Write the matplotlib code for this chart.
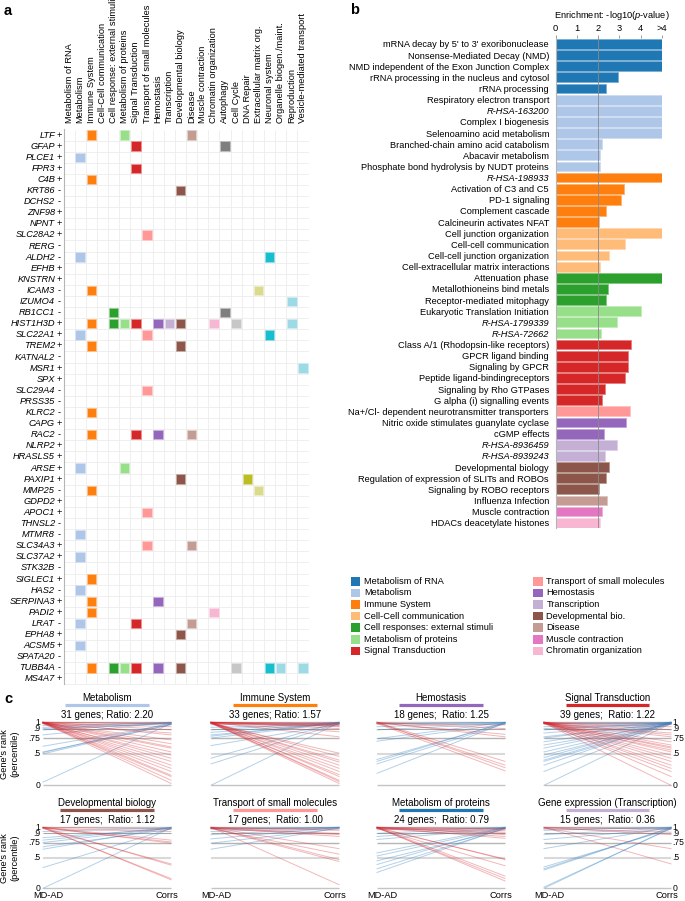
import matplotlib
matplotlib.use('Agg')
import matplotlib.pyplot as plt
from matplotlib.patches import Rectangle
from matplotlib.colors import to_rgb

plt.rcParams['font.family'] = ['Liberation Sans', 'DejaVu Sans']
plt.rcParams['mathtext.fontset'] = 'custom'
plt.rcParams['mathtext.rm'] = 'Liberation Sans'
plt.rcParams['mathtext.it'] = 'Liberation Sans:italic'

W, H = 685, 901
FS = 6.7

# ---------------- data : panel a ----------------
categories = ["Metabolism of RNA", "Metabolism", "Immune System", "Cell-Cell communication",
              "Cell response: external stimuli", "Metabolism of proteins", "Signal Transduction",
              "Transport of small molecules", "Hemostasis", "Transcription", "Developmental biology",
              "Disease", "Muscle contraction", "Chromatin organization", "Autophagy", "Cell Cycle",
              "DNA Repair", "Extracellular matrix org.", "Neuronal system", "Organelle biogen./maint.",
              "Reproduction", "Vesicle-mediated transport"]
cat_colors = ['#1f77b4', '#aec7e8', '#ff7f0e', '#ffbb78', '#2ca02c', '#98df8a', '#d62728',
              '#ff9896', '#9467bd', '#c5b0d5', '#8c564b', '#c49c94', '#e377c2', '#f7b6d2',
              '#7f7f7f', '#c7c7c7', '#bcbd22', '#dbdb8d', '#17becf', '#9edae5', '#9edae5', '#9edae5']

genes = ["LTF", "GFAP", "PLCE1", "FPR3", "C4B", "KRT86", "DCHS2", "ZNF98", "NPNT", "SLC28A2",
         "RERG", "ALDH2", "EFHB", "KNSTRN", "ICAM3", "IZUMO4", "RB1CC1", "HIST1H3D", "SLC22A1",
         "TREM2", "KATNAL2", "MSR1", "SPX", "SLC29A4", "PRSS35", "KLRC2", "CAPG", "RAC2", "NLRP2",
         "HRASLS5", "ARSE", "PAXIP1", "MMP25", "GDPD2", "APOC1", "THNSL2", "MTMR8", "SLC34A3",
         "SLC37A2", "STK32B", "SIGLEC1", "HAS2", "SERPINA3", "PADI2", "LRAT", "EPHA8", "ACSM5",
         "SPATA20", "TUBB4A", "MS4A7"]
gene_signs = ["+", "+", "+", "+", "+", "-", "-", "+", "+", "+",
              "-", "-", "+", "+", "-", "-", "-", "+", "+",
              "+", "-", "+", "+", "-", "-", "-", "+", "-", "+",
              "+", "+", "+", "-", "+", "+", "-", "-", "+",
              "+", "-", "+", "-", "+", "+", "-", "+", "+",
              "-", "-", "+"]
gene_hits = [[2, 5, 11], [6, 14], [1], [6], [2], [10], [], [], [], [7],
             [], [1, 18], [], [], [2, 17], [20], [4, 14], [2, 4, 5, 6, 8, 9, 10, 13, 15, 20], [1, 7, 18],
             [2, 10], [], [21], [], [7], [], [2], [], [2, 6, 8, 11], [],
             [], [1, 5], [10, 16], [2, 17], [], [7], [], [1], [7, 11],
             [1], [], [2], [1], [2, 8], [2, 13], [1, 6, 11], [10], [1],
             [], [2, 4, 5, 6, 8, 10, 15, 18, 19, 21], []]

# ---------------- data : panel b ----------------
pathways = ["mRNA decay by 5' to 3' exoribonuclease", "Nonsense-Mediated Decay (NMD)",
            "NMD independent of the Exon Junction Complex", "rRNA processing in the nucleus and cytosol",
            "rRNA processing", "Respiratory electron transport", "R-HSA-163200", "Complex I biogenesis",
            "Selenoamino acid metabolism", "Branched-chain amino acid catabolism", "Abacavir metabolism",
            "Phosphate bond hydrolysis by NUDT proteins", "R-HSA-198933", "Activation of C3 and C5",
            "PD-1 signaling", "Complement cascade", "Calcineurin activates NFAT", "Cell junction organization",
            "Cell-cell communication", "Cell-cell junction organization", "Cell-extracellular matrix interactions",
            "Attenuation phase", "Metallothioneins bind metals", "Receptor-mediated mitophagy",
            "Eukaryotic Translation Initiation", "R-HSA-1799339", "R-HSA-72662",
            "Class A/1 (Rhodopsin-like receptors)", "GPCR ligand binding", "Signaling by GPCR",
            "Peptide ligand-bindingreceptors", "Signaling by Rho GTPases", "G alpha (i) signalling events",
            "Na+/Cl- dependent neurotransmitter transporters", "Nitric oxide stimulates guanylate cyclase",
            "cGMP effects", "R-HSA-8936459", "R-HSA-8939243", "Developmental biology",
            "Regulation of expression of SLITs and ROBOs", "Signaling by ROBO receptors",
            "Influenza Infection", "Muscle contraction", "HDACs deacetylate histones"]
# -log10(p); values beyond 4 are shown in the ">4" slot (5)
enrichment = [5, 5, 5, 2.91, 2.36, 5, 5, 5, 5, 2.20, 2.09, 2.08, 5, 3.23, 3.07, 2.36, 2.05,
              5, 3.24, 2.49, 2.09, 5, 2.44, 2.36, 4.03, 2.88, 2.13, 3.56, 3.42, 3.42, 3.24, 2.30,
              2.20, 3.48, 3.31, 2.27, 2.88, 2.31, 2.52, 2.36, 2.05, 2.43, 2.19, 2.08]
pathway_group = [0, 0, 0, 0, 0, 1, 1, 1, 1, 1, 1, 1, 2, 2, 2, 2, 2, 3, 3, 3, 3, 4, 4, 4, 5, 5, 5,
                 6, 6, 6, 6, 6, 6, 7, 8, 8, 9, 9, 10, 10, 10, 11, 12, 13]
enrich_ticks = [0, 1, 2, 3, 4, 5]
enrich_ticklabels = ["0", "1", "2", "3", "4", ">4"]

legend_labels = ["Metabolism of RNA", "Metabolism", "Immune System", "Cell-Cell communication",
                 "Cell responses: external stimuli", "Metabolism of proteins", "Signal Transduction",
                 "Transport of small molecules", "Hemostasis", "Transcription", "Developmental bio.",
                 "Disease", "Muscle contraction", "Chromatin organization"]

# ---------------- data : panel c ----------------
c_titles = ["Metabolism", "Immune System", "Hemostasis", "Signal Transduction",
            "Developmental biology", "Transport of small molecules", "Metabolism of proteins",
            "Gene expression (Transcription)"]
c_title_colors = ['#aec7e8', '#ff7f0e', '#9467bd', '#d62728', '#8c564b', '#ff9896', '#1f77b4', '#c5b0d5']
c_subtitles = ["31 genes; Ratio: 2.20", "33 genes; Ratio: 1.57", "18 genes;  Ratio: 1.25",
               "39 genes;  Ratio: 1.22", "17 genes;  Ratio: 1.12", "17 genes;  Ratio: 1.00",
               "24 genes;  Ratio: 0.79", "15 genes;  Ratio: 0.36"]

met_up_from = [0.05, 0.50, 0.52, 0.53, 0.62, 0.80, 0.88, 0.90, 0.92, 0.95]
met_up_to = [0.98, 0.97, 0.99, 0.96, 0.97, 1.00, 0.99, 0.98, 1.00, 0.99]
met_dn_from = [1.00, 0.99, 1.00, 0.98, 1.00, 0.99, 1.00, 1.00, 0.99, 1.00, 0.98,
               1.00, 0.99, 1.00, 1.00, 0.99, 1.00, 0.98, 1.00, 0.99, 1.00]
met_dn_to = [0.97, 0.93, 0.88, 0.83, 0.80, 0.72, 0.66, 0.61, 0.59, 0.53, 0.48,
             0.43, 0.38, 0.32, 0.27, 0.22, 0.16, 0.14, 0.08, 0.03, 0.99]

imm_up_from = [0.00, 0.34, 0.43, 0.63, 0.75, 0.78, 0.80, 0.84, 0.88, 0.92, 0.96]
imm_up_to = [0.99, 0.98, 1.00, 0.97, 0.99, 1.00, 0.98, 0.99, 1.00, 0.97, 0.99]
imm_dn_from = [1.00, 0.99, 1.00, 0.98, 1.00, 0.99, 1.00, 1.00, 0.99, 1.00, 0.98,
               1.00, 0.99, 1.00, 1.00, 0.99, 1.00, 0.98, 1.00, 0.99, 1.00, 0.99]
imm_dn_to = [0.99, 0.98, 0.97, 0.95, 0.94, 0.96, 0.93, 0.90, 0.85, 0.77, 0.51,
             0.46, 0.40, 0.37, 0.32, 0.27, 0.22, 0.17, 0.14, 0.08, 0.06, 0.03]

hem_up_from = [0.19, 0.34, 0.38, 0.41, 0.70, 0.74, 0.88, 0.93, 0.97, 0.98]
hem_up_to = [0.99, 0.98, 1.00, 0.99, 0.97, 1.00, 0.98, 0.99, 1.00, 0.99]
hem_dn_from = [1.00, 0.99, 1.00, 0.98, 1.00, 0.99, 1.00, 0.98]
hem_dn_to = [0.38, 0.32, 0.28, 0.23, 0.77, 0.81, 0.90, 0.96]

sig_up_from = [0.00, 0.22, 0.32, 0.38, 0.40, 0.44, 0.48, 0.53, 0.59, 0.64, 0.69, 0.75, 0.77,
               0.83, 0.88, 0.90, 0.93, 0.97, 0.98]
sig_up_to = [0.98, 0.99, 1.00, 0.97, 0.99, 1.00, 0.98, 0.99, 1.00, 0.97, 0.99, 1.00, 0.98,
             0.99, 1.00, 0.98, 0.99, 1.00, 0.99]
sig_dn_from = [1.00, 0.99, 1.00, 0.98, 1.00, 0.99, 1.00, 1.00, 0.99, 1.00,
               0.98, 1.00, 0.99, 1.00, 1.00, 0.99, 1.00, 0.98, 1.00, 0.99]
sig_dn_to = [0.97, 0.93, 0.88, 0.83, 0.80, 0.77, 0.69, 0.64, 0.61, 0.59,
             0.56, 0.53, 0.48, 0.43, 0.38, 0.32, 0.27, 0.22, 0.14, 0.00]

dev_up_from = [0.00, 0.34, 0.64, 0.68, 0.75, 0.79, 0.83, 0.93]
dev_up_to = [0.99, 0.98, 1.00, 0.97, 0.99, 1.00, 0.98, 0.99]
dev_dn_from = [1.00, 0.99, 1.00, 0.98, 1.00, 0.99, 1.00, 0.98, 1.00]
dev_dn_to = [0.14, 0.16, 0.38, 0.40, 0.74, 0.76, 0.79, 0.93, 0.97]

tra_up_from = [0.64, 0.74, 0.81, 0.88, 0.93, 0.97, 0.98]
tra_up_to = [0.99, 0.98, 1.00, 0.99, 1.00, 0.99, 1.00]
tra_dn_from = [1.00, 0.99, 1.00, 0.98, 1.00, 0.99, 1.00, 0.98, 1.00, 0.99]
tra_dn_to = [0.06, 0.44, 0.47, 0.56, 0.65, 0.85, 0.88, 0.90, 0.95, 0.97]

pro_up_from = [0.26, 0.32, 0.39, 0.45, 0.53, 0.58, 0.80, 0.85, 0.90, 0.96]
pro_up_to = [0.99, 0.98, 1.00, 0.97, 0.99, 1.00, 0.98, 0.99, 1.00, 0.99]
pro_dn_from = [1.00, 0.99, 1.00, 0.98, 1.00, 0.99, 1.00, 0.98, 1.00, 0.99, 1.00, 0.98, 1.00, 0.99]
pro_dn_to = [0.12, 0.16, 0.20, 0.37, 0.47, 0.48, 0.82, 0.85, 0.88, 0.90, 0.92, 0.95, 0.97, 0.98]

gex_up_from = [0.00, 0.02, 0.30, 0.32, 0.35, 0.65, 0.80, 0.88, 0.95, 0.97]
gex_up_to = [0.99, 0.98, 1.00, 0.99, 0.97, 1.00, 0.98, 0.99, 1.00, 0.99]
gex_dn_from = [1.00, 0.99, 1.00, 0.98, 1.00]
gex_dn_to = [0.40, 0.65, 0.88, 0.92, 0.97]

c_lines = [(met_up_from, met_up_to, met_dn_from, met_dn_to),
           (imm_up_from, imm_up_to, imm_dn_from, imm_dn_to),
           (hem_up_from, hem_up_to, hem_dn_from, hem_dn_to),
           (sig_up_from, sig_up_to, sig_dn_from, sig_dn_to),
           (dev_up_from, dev_up_to, dev_dn_from, dev_dn_to),
           (tra_up_from, tra_up_to, tra_dn_from, tra_dn_to),
           (pro_up_from, pro_up_to, pro_dn_from, pro_dn_to),
           (gex_up_from, gex_up_to, gex_dn_from, gex_dn_to)]
rank_refs = [1, 0.9, 0.75, 0.5, 0]
rank_ref_labels = ["1", ".9", ".75", ".5", "0"]

# ================= drawing =================
fig = plt.figure(figsize=(W / 100, H / 100), dpi=100)


def px_axes(x0, y0, x1, y1):
    return fig.add_axes([x0 / W, 1 - y1 / H, (x1 - x0) / W, (y1 - y0) / H])


def lighten(c, f=0.45):
    r, g, b = to_rgb(c)
    return (r + (1 - r) * f, g + (1 - g) * f, b + (1 - b) * f)


ov = px_axes(0, 0, W, H)
ov.set_xlim(0, W)
ov.set_ylim(H, 0)
ov.axis('off')
ov.set_zorder(-5)

for lab, (x, y) in zip("abc", [(8, 11), (355, 10), (8, 699)]):
    ov.text(x, y, lab, fontsize=10.5, fontweight='bold', ha='center', va='center')

# ---- panel a ----
axA = px_axes(63.5, 129.5, 308.5, 684.5)
nC, nG = len(categories), len(genes)
axA.set_xlim(-0.5, nC - 0.5)
axA.set_ylim(nG - 0.5, -0.5)
for i in range(nC + 1):
    axA.axvline(i - 0.5, color='#ececec', lw=0.6, zorder=0)
for j in range(nG + 1):
    axA.axhline(j - 0.5, color='#ececec', lw=0.6, zorder=0)
for s in ['top', 'right', 'bottom']:
    axA.spines[s].set_visible(False)
axA.spines['left'].set_color('#b5b5b5')
axA.spines['left'].set_linewidth(0.8)
axA.set_xticks([])
axA.set_yticks([])
xs, ys, cs, es = [], [], [], []
for j, hits in enumerate(gene_hits):
    for h in hits:
        xs.append(h)
        ys.append(j)
        cs.append(cat_colors[h])
        es.append(lighten(cat_colors[h], 0.5))
axA.scatter(xs, ys, marker='s', s=46, c=cs, edgecolors=es, linewidths=0.6, zorder=3)
for i, name in enumerate(categories):
    axA.text(i, -1.07, name, rotation=90, ha='center', va='bottom', fontsize=FS)
for j, (g, sg) in enumerate(zip(genes, gene_signs)):
    axA.text(-1.26, j, g, ha='right', va='center', fontsize=FS, style='italic')
    axA.text(-0.86, j, sg, ha='center', va='center', fontsize=FS)

# ---- panel b ----
axB = px_axes(555.7, 38.4, 662, 528.3)
nP = len(pathways)
bcol = [cat_colors[g] for g in pathway_group]
axB.barh(range(nP), enrichment, height=0.88, color=bcol,
         edgecolor=[lighten(c, 0.4) for c in bcol], linewidth=0.6, zorder=2)
axB.set_xlim(0, 5)
axB.set_ylim(nP - 0.5, -0.5)
axB.axvline(2, color='#8a8a8a', lw=0.6, zorder=4)
axB.xaxis.tick_top()
axB.set_xticks(enrich_ticks)
axB.set_xticklabels(enrich_ticklabels, fontsize=FS)
axB.tick_params(axis='x', length=2.5, width=0.5, color='#777777', pad=1.5)
axB.set_yticks(range(nP))
ylabs = axB.set_yticklabels(pathways, fontsize=FS)
for t in ylabs:
    if t.get_text().startswith("R-HSA"):
        t.set_style('italic')
axB.tick_params(axis='y', length=0, pad=4.8)
for s in ['top', 'right', 'bottom']:
    axB.spines[s].set_visible(False)
axB.spines['left'].set_color('#b5b5b5')
axB.spines['left'].set_linewidth(0.8)
ov.text(611.5, 15, r"Enrichment: -log10($\mathit{p}$-value)", ha='center', va='center', fontsize=FS)

# legend
for k, lab in enumerate(legend_labels):
    col = k // 7
    row = k % 7
    x0 = 351 if col == 0 else 533.5
    yc = 581.3 + row * 11.6
    ov.add_patch(Rectangle((x0, yc - 4.3), 9.5, 8.6, facecolor=cat_colors[k], edgecolor='none'))
    ov.text(x0 + 13, yc, lab, ha='left', va='center', fontsize=FS)

# ---- panel c ----
col_x = [(43, 171), (211, 339), (377, 505), (544, 671)]
row_y = [(722.3, 785.3), (827.3, 888.3)]
ref_styles = {1: ('#c4c4c4', 1.0), 0.9: ('#a8a8a8', 0.8), 0.75: ('#b4b4b4', 1.0),
              0.5: ('#d9d9d9', 1.5), 0: ('#c4c4c4', 1.0)}
TFS = 6.2
for k in range(8):
    r, c = divmod(k, 4)
    x0, x1 = col_x[c]
    y0, y1 = row_y[r]
    ax = px_axes(x0, y0, x1, y1)
    ax.set_xlim(0, 1)
    ax.set_ylim(0, 1)
    ax.axis('off')
    ppu = y1 - y0
    for v in rank_refs:
        colr, lw = ref_styles[v]
        ax.plot([0, 1], [v, v], color=colr, lw=lw, zorder=1, clip_on=False, solid_capstyle='butt')
    up_from, up_to, dn_from, dn_to = c_lines[k]
    for a, b in zip(up_from, up_to):
        ax.plot([0, 1], [a, b], color='#3a86c4', alpha=0.38, lw=0.7, zorder=2, clip_on=False)
    for a, b in zip(dn_from, dn_to):
        ax.plot([0, 1], [a, b], color='#d9262b', alpha=0.33, lw=0.7, zorder=2, clip_on=False)
    ax.text(0.5, 1 + 24.3 / ppu, c_titles[k], ha='center', va='center', fontsize=FS + 0.3)
    uw = 0.33 if k != 4 else 0.365
    ax.plot([0.5 - uw, 0.5 + uw], [1 + 17.8 / ppu] * 2, color=c_title_colors[k], lw=2.3,
            clip_on=False, solid_capstyle='butt')
    ax.text(0.5, 1 + 7.3 / ppu, c_subtitles[k], ha='center', va='center', fontsize=FS + 0.3)
    if c == 0:
        for v, lab in zip(rank_refs, rank_ref_labels):
            ax.text(-0.02, v, lab, ha='right', va='center', fontsize=TFS, linespacing=1.0)
        ax.text(-0.26, 0.5, "Gene's rank\n(percentile)", rotation=90, ha='center', va='center',
                fontsize=FS, linespacing=1.1)
    if c == 3:
        for v, lab in zip(rank_refs, rank_ref_labels):
            ax.text(1.01, v, lab, ha='left', va='center', fontsize=TFS, linespacing=1.0)
    if r == 1:
        ax.text(0.045, -12.0 / ppu, "MD-AD", ha='center', va='bottom', fontsize=FS)
        ax.text(0.965, -12.0 / ppu, "Corrs", ha='center', va='bottom', fontsize=FS)

fig.savefig("out.png", dpi=100)
